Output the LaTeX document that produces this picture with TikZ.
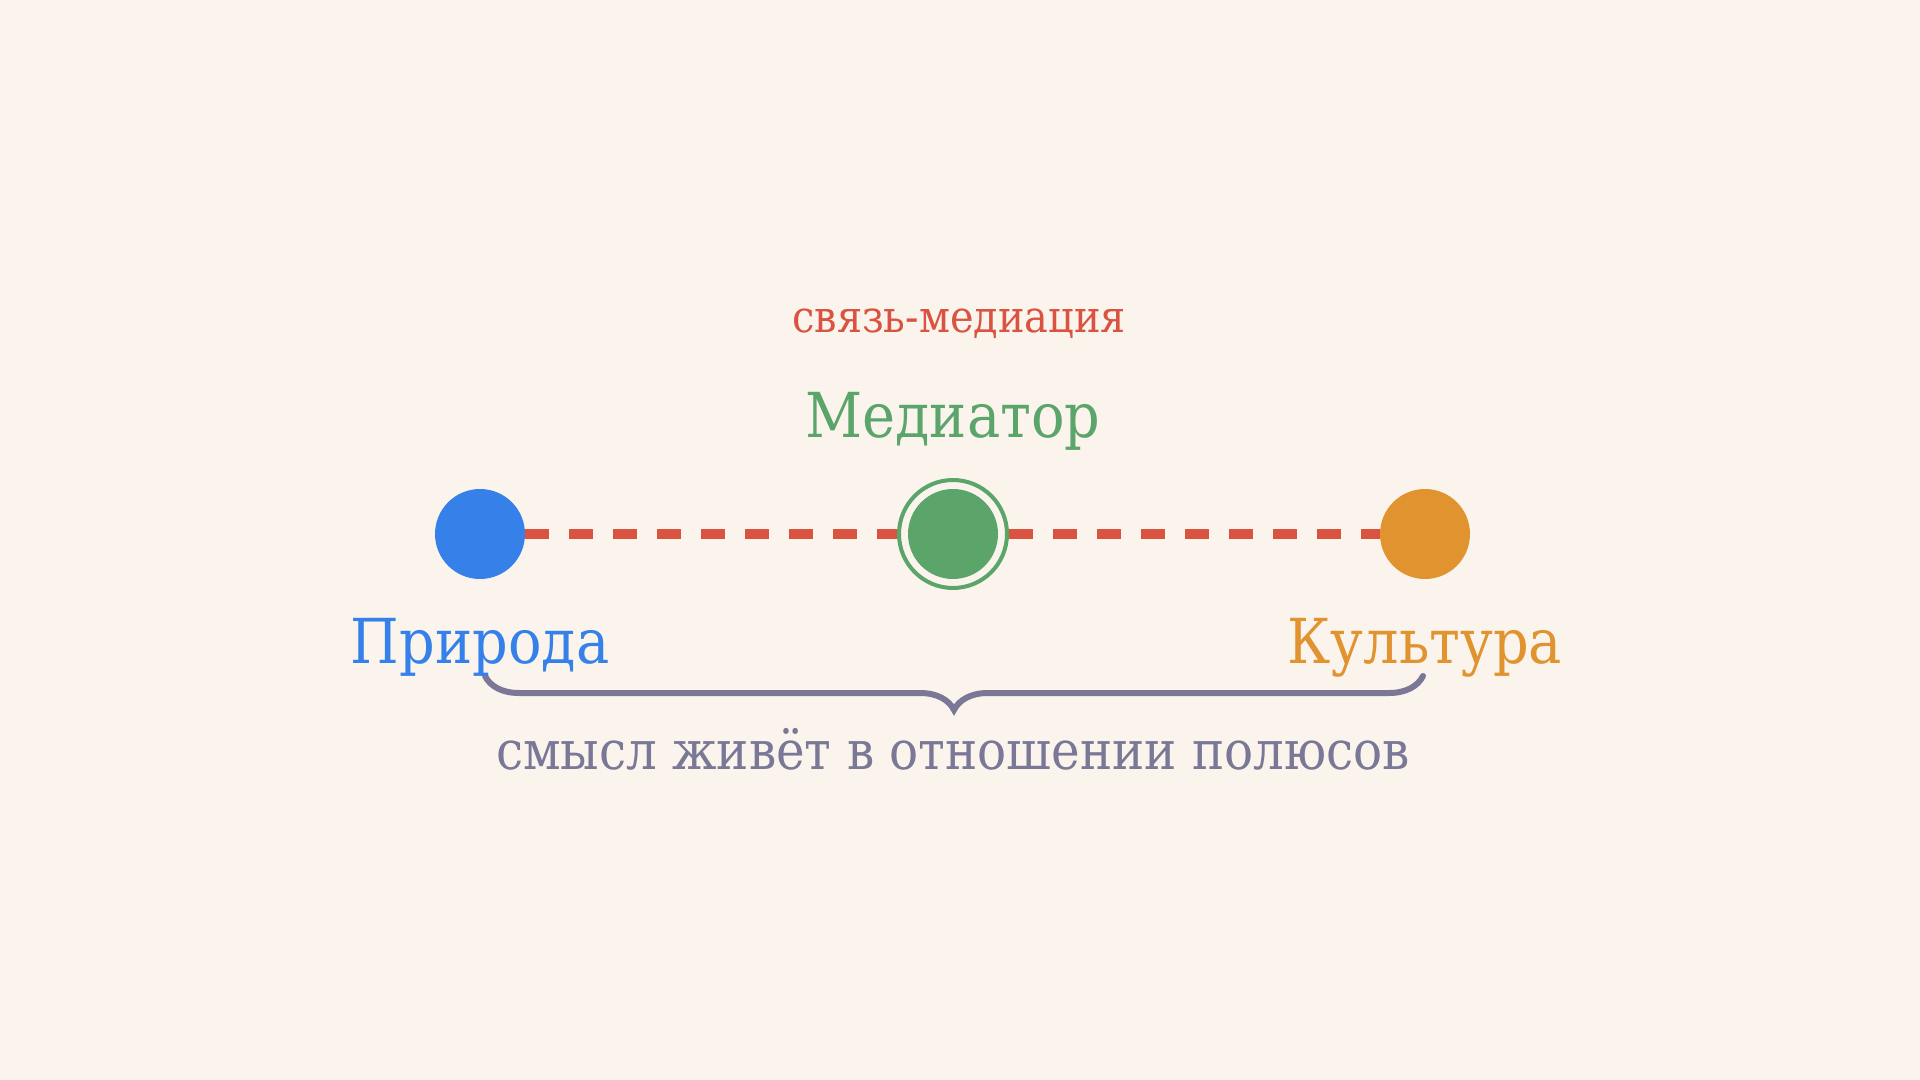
\documentclass[tikz,border=0pt]{standalone}
\usepackage{fontspec}
\setmainfont{DejaVu Serif Condensed}
\usepackage{tikz}
\usetikzlibrary{decorations.pathreplacing}

\definecolor{paper}{RGB}{250,244,237}
\definecolor{natblue}{RGB}{53,129,233}
\definecolor{medgreen}{RGB}{91,165,106}
\definecolor{cultorange}{RGB}{224,147,46}
\definecolor{linkred}{RGB}{217,83,64}
\definecolor{bracegray}{RGB}{122,120,150}

\begin{document}
\begin{tikzpicture}[x=0.75pt,y=0.75pt,yscale=-1,xscale=1,
    pole/.style={circle,inner sep=0pt,minimum size=67.5pt},
    link/.style={color=linkred,line width=7.5pt,dash pattern=on 18pt off 15pt},
    bigtext/.style={anchor=base,inner sep=0.75pt,font=\fontsize{46.5}{54}\selectfont}]
        %Background
        \useasboundingbox[fill=paper] (0,0) rectangle (1920,1080);

        %Shape: Circle [Природа]
        \node [pole,fill=natblue] (nature) at (480,534) {};
        %Shape: Circle [Культура]
        \node [pole,fill=cultorange] (culture) at (1425,534) {};
        %Shape: Ring [Медиатор]
        \node [circle,inner sep=0pt,minimum size=81pt,draw=medgreen,line width=3pt,fill=paper] (ring) at (953,534) {};
        \node [pole,fill=medgreen] (mediator) at (953,534) {};

        %Straight Lines
        \draw [link] (nature) -- (ring) ;
        \draw [link] (ring) -- (culture) ;

        %Brace
        \coordinate (braceL) at (485,676);
        \coordinate (braceR) at (1423,676);
        \draw [decorate,decoration={brace,mirror,amplitude=25.5pt},color=bracegray,line width=4.5pt,line cap=round] (braceL) -- (braceR) ;

        % Text Node
        \node [anchor=base,inner sep=0.75pt,color=linkred,font=\fontsize{33.2}{38}\selectfont] (linklabel) at (959,333) {связь-медиация};
        % Text Node
        \node [bigtext,color=medgreen] (medlabel) at (953,437) {Медиатор};
        % Text Node
        \node [bigtext,color=natblue] (natlabel) at (480,663) {Природа};
        % Text Node
        \node [bigtext,color=cultorange] (cultlabel) at (1425,663) {Культура};
        % Text Node
        \node [anchor=base,inner sep=0.75pt,color=bracegray,font=\fontsize{40.3}{46}\selectfont] (sense) at (953,769) {смысл живёт в отношении полюсов};

\end{tikzpicture}
\end{document}
